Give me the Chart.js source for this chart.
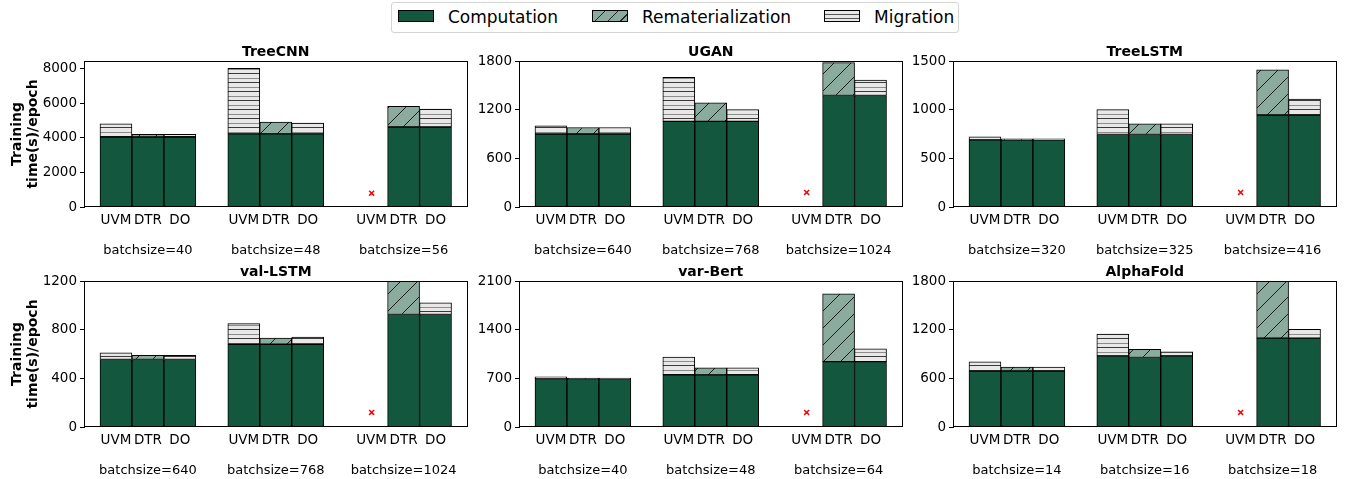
<!DOCTYPE html>
<html>
<head>
<meta charset="utf-8">
<script src="https://cdn.jsdelivr.net/npm/chart.js@4.4.1/dist/chart.umd.min.js"></script>
<style>
  body { margin: 0; background: #fff; width: 1348px; height: 479px; position: relative; overflow: hidden; font-family: "DejaVu Sans", sans-serif; }
  canvas { position: absolute; }
  #legend { position: absolute; left: 391px; top: 2px; width: 566px; height: 29px; border: 1px solid #d4d4d4; border-radius: 3px; }
  .txt { position: absolute; top: 0; line-height: 29px; font-size: 17px; color: #000; white-space: nowrap; }
  .patch { position: absolute; top: 7px; width: 34px; height: 10px; border: 1px solid #000; }
</style>
</head>
<body>
<div id="legend">
  <div class="patch" style="left:6px;background:#13573f"></div>
  <div class="txt" style="left:56px">Computation</div>
  <div class="patch" style="left:200px;background:repeating-linear-gradient(135deg,#8bab9f 0 8px,#222 8px 9px)"></div>
  <div class="txt" style="left:250px">Rematerialization</div>
  <div class="patch" style="left:432px;background:repeating-linear-gradient(180deg,#e8e8e8 0 3px,#555 3px 4px)"></div>
  <div class="txt" style="left:482px">Migration</div>
</div>
<script>
// data
const methods = ['UVM', 'DTR', 'DO'];
const positions = [0, 1, 2, 4, 5, 6, 8, 9, 10];
const groupCenters = [1, 5, 9];
const models = ['TreeCNN', 'UGAN', 'TreeLSTM', 'val-LSTM', 'var-Bert', 'AlphaFold'];
const batchLabels = [
  ['batchsize=40', 'batchsize=48', 'batchsize=56'],
  ['batchsize=640', 'batchsize=768', 'batchsize=1024'],
  ['batchsize=320', 'batchsize=325', 'batchsize=416'],
  ['batchsize=640', 'batchsize=768', 'batchsize=1024'],
  ['batchsize=40', 'batchsize=48', 'batchsize=64'],
  ['batchsize=14', 'batchsize=16', 'batchsize=18']
];

const computation = [
  [4050, 4050, 4050, 4230, 4230, 4230, null, 4630, 4630],
  [900, 900, 900, 1055, 1055, 1055, null, 1375, 1375],
  [690, 690, 690, 745, 745, 745, null, 945, 945],
  [555, 555, 555, 680, 680, 680, null, 925, 925],
  [695, 695, 695, 750, 750, 750, null, 940, 940],
  [690, 690, 690, 877, 857, 877, null, 1095, 1095]
];
const remat = [
  [null, 150, null, null, 690, null, null, 1190, null],
  [null, 80, null, null, 230, null, null, 405, null],
  [null, 10, null, null, 110, null, null, 465, null],
  [null, 35, null, null, 50, null, null, 330, null],
  [null, 8, null, null, 100, null, null, 975, null],
  [null, 50, null, null, 100, null, null, 760, null]
];
const migration = [
  [770, null, 150, 3800, null, 630, null, null, 1040],
  [100, null, 80, 545, null, 145, null, null, 190],
  [30, null, 10, 255, null, 110, null, null, 165],
  [55, null, 35, 170, null, 60, null, null, 95],
  [25, null, 8, 255, null, 100, null, null, 185],
  [115, null, 50, 268, null, 50, null, null, 108]
];
// red x where UVM runs out of memory
const oomX = 8;
const oomMark = [800, 180, 150, 120, 210, 180];

const yMax = [8450, 1800, 1500, 1200, 2100, 1800];
const yTicks = [
  [0, 2000, 4000, 6000, 8000],
  [0, 600, 1200, 1800],
  [0, 500, 1000, 1500],
  [0, 400, 800, 1200],
  [0, 700, 1400, 2100],
  [0, 600, 1200, 1800]
];

// layout
const plotLeft = [84, 519, 953];
const plotTop = [61, 281];
const plotW = 385, plotH = 146;
const axisW = 84, titleH = 24, xAxisH = 52;

const COMP = '#13573f';
const REMAT = '#8bab9f';
const MIGR = '#e8e8e8';
const FONT = '"DejaVu Sans", sans-serif';

function diagPattern() {
  const n = 17;
  const c = document.createElement('canvas');
  c.width = n; c.height = n;
  const g = c.getContext('2d');
  g.fillStyle = REMAT;
  g.fillRect(0, 0, n, n);
  g.strokeStyle = '#1c1c1c';
  g.lineWidth = 1;
  g.beginPath();
  g.moveTo(-1, n + 1); g.lineTo(n + 1, -1);
  g.moveTo(-1, 1); g.lineTo(1, -1);
  g.moveTo(n - 1, n + 1); g.lineTo(n + 1, n - 1);
  g.stroke();
  return g.createPattern(c, 'repeat');
}

function horizPattern() {
  const c = document.createElement('canvas');
  c.width = 4; c.height = 9;
  const g = c.getContext('2d');
  g.fillStyle = MIGR;
  g.fillRect(0, 0, 4, 9);
  g.fillStyle = '#3a3a3a';
  g.fillRect(0, 0, 4, 1);
  g.fillStyle = '#8c8c8c';
  g.fillRect(0, 5, 4, 1);
  return g.createPattern(c, 'repeat');
}

const framePlugin = {
  id: 'frame',
  afterDatasetsDraw(chart) {
    const { ctx, chartArea: a } = chart;
    ctx.save();
    ctx.strokeStyle = '#000';
    ctx.lineWidth = 1;
    const l = Math.round(a.left) + 0.5, t = Math.round(a.top) + 0.5;
    const r = Math.round(a.right) - 0.5, b = Math.round(a.bottom) - 0.5;
    ctx.strokeRect(l, t, r - l, b - t);
    ctx.restore();
  }
};

// panel title above the plot and the batch size row under the method ticks
function textPlugin(i) {
  return {
    id: 'panelText',
    afterDraw(chart) {
      const { ctx, chartArea: a } = chart;
      const x = chart.scales.x;
      ctx.save();
      ctx.fillStyle = '#000';
      ctx.textAlign = 'center';
      ctx.font = 'bold 14px ' + FONT;
      ctx.textBaseline = 'alphabetic';
      ctx.fillText(models[i], (a.left + a.right) / 2, a.top - 5);
      ctx.font = '13px ' + FONT;
      ctx.textBaseline = 'middle';
      groupCenters.forEach((g, k) => {
        ctx.fillText(batchLabels[i][k], x.getPixelForValue(g), a.bottom + 44);
      });
      ctx.restore();
    }
  };
}

function points(vals) {
  return positions.map((x, k) => ({ x: x, y: vals[k] })).filter(p => p.y !== null);
}

function makePanel(i) {
  const row = Math.floor(i / 3), col = i % 3;
  const canvas = document.createElement('canvas');
  const w = axisW + plotW + 4;
  const h = titleH + plotH + xAxisH;
  canvas.width = w; canvas.height = h;
  canvas.style.left = (plotLeft[col] - axisW) + 'px';
  canvas.style.top = (plotTop[row] - titleH) + 'px';
  canvas.style.width = w + 'px';
  canvas.style.height = h + 'px';
  document.body.appendChild(canvas);

  new Chart(canvas, {
    type: 'bar',
    data: {
      datasets: [
        { label: 'Computation', data: points(computation[i]), backgroundColor: COMP },
        { label: 'Rematerialization', data: points(remat[i]), backgroundColor: diagPattern() },
        { label: 'Migration', data: points(migration[i]), backgroundColor: horizPattern() },
        {
          type: 'scatter', label: 'OOM', stack: 'oom',
          data: [{ x: oomX, y: oomMark[i] }],
          pointStyle: 'crossRot', radius: 3.5, borderWidth: 1.5,
          borderColor: '#ff0000', backgroundColor: '#ff0000'
        }
      ]
    },
    options: {
      responsive: false,
      animation: false,
      events: [],
      layout: { padding: { top: titleH, right: 4, left: 0, bottom: 0 } },
      plugins: { legend: { display: false }, tooltip: { enabled: false } },
      datasets: {
        bar: { barPercentage: 1, categoryPercentage: 1, borderWidth: 1, borderColor: '#000', borderSkipped: false }
      },
      scales: {
        x: {
          type: 'linear', min: -1, max: 11, stacked: true, offset: false,
          grid: { display: false, drawTicks: false },
          border: { display: false },
          afterBuildTicks: s => { s.ticks = positions.map(v => ({ value: v })); },
          afterFit: s => { s.height = xAxisH; },
          ticks: {
            autoSkip: false, maxRotation: 0, padding: 5, color: '#000',
            font: { family: FONT, size: 13.5 },
            callback: v => methods[positions.indexOf(v) % 3]
          }
        },
        y: {
          stacked: true, min: 0, max: yMax[i],
          grid: { drawOnChartArea: false, drawTicks: true, tickLength: 4, color: '#000' },
          border: { display: true, color: '#000' },
          afterBuildTicks: s => { s.ticks = yTicks[i].map(v => ({ value: v })); },
          afterFit: s => { s.width = axisW; },
          ticks: {
            padding: 3, color: '#000',
            font: { family: FONT, size: 13.5 },
            callback: v => String(v)
          },
          title: {
            display: col === 0,
            text: ['Training', 'time(s)/epoch'],
            color: '#000',
            padding: { top: 10, bottom: 0 },
            font: { family: FONT, size: 14, weight: 'bold', lineHeight: 1.1 }
          }
        }
      }
    },
    plugins: [framePlugin, textPlugin(i)]
  });
}

for (let i = 0; i < models.length; i++) makePanel(i);
</script>
</body>
</html>
